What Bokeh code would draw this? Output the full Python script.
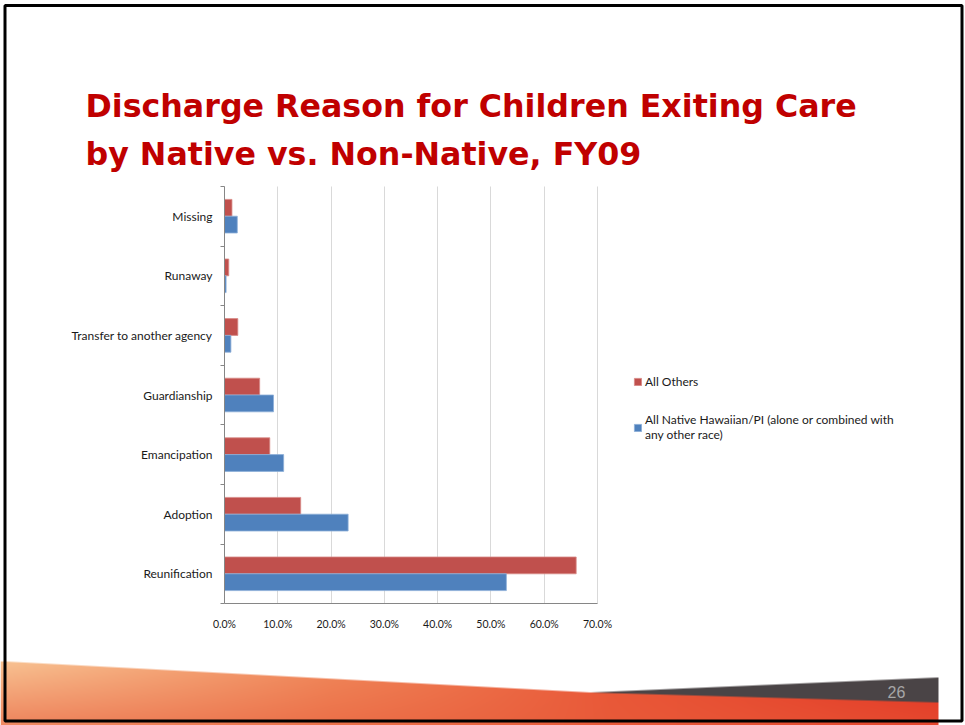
import numpy as np
from bokeh.plotting import figure
from bokeh.models import (Range1d, Legend, LegendItem, FixedTicker,
                          CustomJSTickFormatter)
from bokeh.embed import file_html
from bokeh.resources import INLINE
from bokeh.core.properties import value

# ---------------- data ----------------
categories = ["Reunification", "Adoption", "Emancipation", "Guardianship",
              "Transfer to another agency", "Runaway", "Missing"]
all_others = [66.0, 14.3, 8.5, 6.6, 2.5, 0.8, 1.4]
native_hawaiian = [52.9, 23.2, 11.1, 9.2, 1.2, 0.3, 2.4]
x_ticks = [0, 10, 20, 30, 40, 50, 60, 70]
series_labels = ["All Others",
                 "All Native Hawaiian/PI (alone or combined with\nany other race)"]
title_lines = ["Discharge Reason for Children Exiting Care",
               "by Native vs. Non-Native, FY09"]
page_number = "26"

RED = "#C0504D"
BLUE = "#4F81BD"
FONT = "Lato"

# ---------------- canvas geometry (px) ----------------
W, H = 965, 725
X0_PX, X70_PX = 224.0, 597.0          # 0% and 70% positions
CAT0_PX, STEP_PX = 573.3, 59.6        # first category centre, category pitch
SX = (X70_PX - X0_PX) / 70.0
xr0 = -X0_PX / SX
xr1 = xr0 + W / SX
yr0 = (CAT0_PX - H) / STEP_PX
yr1 = CAT0_PX / STEP_PX


def dx(px):
    return xr0 + px / SX


def dy(py):
    return (CAT0_PX - py) / STEP_PX


p = figure(width=W, height=H, output_backend="svg", toolbar_location=None,
           x_range=Range1d(xr0, xr1), y_range=Range1d(yr0, yr1),
           min_border=0, min_border_left=0, min_border_right=0,
           min_border_top=0, min_border_bottom=0)
p.outline_line_color = None
p.background_fill_color = "white"
p.border_fill_color = "white"

n = len(categories)
lo, hi = -0.5, n - 0.5

# ---------------- footer decoration (image) ----------------
FOOT_TOP = 640
nx, ny = W, H - FOOT_TOP
px = np.arange(nx) + 0.5
py = H - (np.arange(ny) + 0.5)            # row 0 = bottom
X, Y = np.meshgrid(px, py)
top = np.interp(X, [5, 590, 938], [661, 692, 702])
dark_top = np.interp(X, [590, 938], [692, 677])
u = np.clip((X - 5) / 933.0, 0, 1)
stops = [0, 0.35, 0.65, 1.0]
R = np.interp(u, stops, [248, 239, 233, 228])
G = np.interp(u, stops, [194, 130, 88, 64])
B = np.interp(u, stops, [146, 86, 56, 42])
v = np.clip((Y - top) / np.maximum(719 - top, 1), 0, 1)
k = 0.55 * v * (1 - 0.6 * u)
R = R * (1 - k) + 232 * k
G = G * (1 - k) + 92 * k
B = B * (1 - k) + 58 * k
a_orange = np.clip(Y - top + 0.5, 0, 1)
a_dark = np.clip(Y - dark_top + 0.5, 0, 1) * (X >= 590) * (1 - a_orange)
right_cut = np.clip(938.5 - X, 0, 1)
DR, DG, DB = 74, 68, 70
tot = np.maximum(a_orange + a_dark, 1e-6)
alpha = np.clip(a_orange + a_dark, 0, 1) * right_cut
Rf = (R * a_orange + DR * a_dark) / tot
Gf = (G * a_orange + DG * a_dark) / tot
Bf = (B * a_orange + DB * a_dark) / tot
img = np.zeros((ny, nx), dtype=np.uint32)
view = img.view(dtype=np.uint8).reshape((ny, nx, 4))
view[:, :, 0] = np.clip(Rf, 0, 255).astype(np.uint8)
view[:, :, 1] = np.clip(Gf, 0, 255).astype(np.uint8)
view[:, :, 2] = np.clip(Bf, 0, 255).astype(np.uint8)
view[:, :, 3] = (alpha * 255).astype(np.uint8)
p.image_rgba(image=[img], x=dx(0), y=dy(H), dw=W / SX, dh=ny / STEP_PX)

p.text(x=[dx(896)], y=[dy(691)], text=[page_number], text_align="center",
       text_baseline="middle", text_font=value("Liberation Sans"),
       text_font_size="16px", text_color="#A6A6A6")

# slide border
p.quad(left=[dx(4.5)], right=[dx(961.5)], top=[dy(5)], bottom=[dy(720.5)],
       fill_color=None, line_color="black", line_width=3)

# ---------------- title ----------------
p.text(x=[dx(85), dx(85)], y=[dy(105), dy(153)], text=title_lines,
       text_font=value("DejaVu Sans"), text_font_style="bold",
       text_font_size="31.7px", text_color="#C00000",
       text_baseline="middle", text_align="left")

# ---------------- grid ----------------
p.ygrid.visible = False
p.xgrid.ticker = FixedTicker(ticks=x_ticks)
p.xgrid.grid_line_color = "#D9D9D9"
p.xgrid.grid_line_width = 1
try:
    p.xgrid.bounds = (0, 70)
    p.xgrid.cross_bounds = (lo, hi)
except Exception:
    p.xgrid.visible = False
    p.segment(x0=x_ticks, y0=lo, x1=x_ticks, y1=hi,
              line_color="#D9D9D9", line_width=1)

# ---------------- bars ----------------
ypos = np.arange(n)
r_red = p.hbar(y=ypos + 0.141, right=all_others, left=0, height=0.282,
               fill_color=RED, line_color="#D88A88", line_width=0.8)
r_blue = p.hbar(y=ypos - 0.141, right=native_hawaiian, left=0, height=0.282,
                fill_color=BLUE, line_color="#8DAFD8", line_width=0.8)

# ---------------- axes ----------------
xa = p.xaxis[0]
xa.fixed_location = lo
xa.bounds = (0, 70)
xa.ticker = FixedTicker(ticks=x_ticks)
xa.formatter = CustomJSTickFormatter(code="return tick.toFixed(1) + '%';")
xa.axis_line_color = "#868686"
xa.major_tick_line_color = None
xa.major_tick_out = 0
xa.major_tick_in = 0
xa.minor_tick_line_color = None
xa.major_label_standoff = 14
xa.major_label_text_font = FONT
xa.major_label_text_font_size = "10.5px"
xa.major_label_text_color = "#1a1a1a"

ya = p.yaxis[0]
ya.fixed_location = 0
ya.bounds = (lo, hi)
ya.ticker = FixedTicker(ticks=list(range(n)),
                        minor_ticks=[i - 0.5 for i in range(n + 1)])
ya.major_label_overrides = {i: c for i, c in enumerate(categories)}
ya.axis_line_color = "#868686"
ya.major_tick_line_color = None
ya.major_tick_out = 0
ya.major_tick_in = 0
ya.minor_tick_line_color = "#868686"
ya.minor_tick_out = 4
ya.minor_tick_in = 0
ya.major_label_standoff = 8
ya.major_label_text_font = FONT
ya.major_label_text_font_size = "12px"
ya.major_label_text_color = "#1a1a1a"

# ---------------- legend ----------------
legend = Legend(items=[LegendItem(label=series_labels[0], renderers=[r_red]),
                       LegendItem(label=series_labels[1], renderers=[r_blue])],
                location=(633, 283), orientation="vertical",
                padding=0, margin=0, spacing=23,
                glyph_width=9, glyph_height=9, label_standoff=3,
                label_height=14, label_text_font=FONT,
                label_text_font_size="12px", label_text_line_height=1.4,
                label_text_color="#1a1a1a",
                border_line_color=None, background_fill_alpha=0)
p.add_layout(legend, "center")

open("out.html", "w").write(file_html(p, INLINE))
